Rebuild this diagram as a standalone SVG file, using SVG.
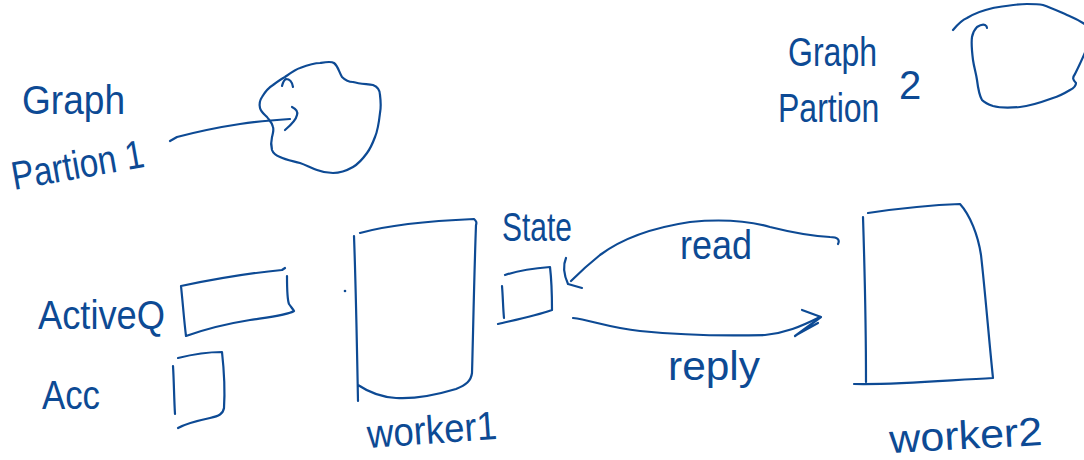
<svg xmlns="http://www.w3.org/2000/svg" width="1084" height="460" viewBox="0 0 1084 460">
<style>
.s{fill:none;stroke:#0d4a94;stroke-width:2.2;stroke-linecap:round;stroke-linejoin:round}
.t{fill:#0d4a94;font-family:"Liberation Sans",Arial,sans-serif;font-size:40px}
</style>
<rect width="1084" height="460" fill="#ffffff"/>
<g id="graph1">
<text class="t" x="22" y="114" font-size="46" textLength="103" lengthAdjust="spacingAndGlyphs">Graph</text>
<text class="t" x="14" y="190" transform="rotate(-10 14 190)" font-size="42" textLength="134" lengthAdjust="spacingAndGlyphs">Partion 1</text>
<path class="s" d="M285,77 C292,72 296,69 300,68 C308,65 314,63 320,63 C326,62 331,61 334,63 C338,66 339,72 342,77 C346,81 350,82 353,82 C360,84 368,84 373,85 C378,87 380,90 380,95 C381,103 381,108 380,113 C379,122 378,130 375,137 C372,145 370,149 367,153 C362,160 358,164 353,167 C346,171 340,173 333,173 C327,173 322,172 317,170 C311,168 306,165 300,163 C293,161 286,160 280,157 C275,155 273,153 272,150 C271,146 271,141 272,137 C273,133 274,130 273,127 C272,122 269,120 267,117 C264,114 261,112 260,108 C259,104 260,100 262,97 C265,92 268,88 273,85 C277,82 281,79 285,77 Z"/>
<path class="s" d="M282,86 C283,82 284,80 286,79 C289,79 292,81 293,87"/>
</g>
<g id="graph2">
<text class="t" x="788" y="66" font-size="44" textLength="89" lengthAdjust="spacingAndGlyphs">Graph</text>
<text class="t" transform="translate(778 122) scale(0.8 1)" x="0" y="0" font-size="44">Partion</text>
<text class="t" x="899" y="99" font-size="24">2</text>
<path class="s" d="M953,30 C958,24 962,20 967,18 C975,13 984,10 993,8 C1005,6 1016,4 1027,4 C1034,4 1038,4 1043,5 C1052,8 1060,12 1067,15 C1074,18 1079,20 1086,25 M1086,50 C1082,60 1078,68 1075,74 C1072,78 1073,80 1076,83 C1076,86 1074,88 1070,90 C1065,93 1060,96 1053,98 C1042,102 1031,106 1020,107 C1010,108 1000,108 993,106 C987,104 984,102 982,100 C979,95 978,88 977,80 C976,73 974,67 973,60 C972,52 971,44 972,37 C973,32 975,29 977,27 C980,25 983,24 985,25 C987,26 987,27 987,28"/>
</g>
<g id="activeq">
<text class="t" x="38" y="329" font-size="50" textLength="127" lengthAdjust="spacingAndGlyphs">ActiveQ</text>
<path class="s" d="M181,286 C210,280 250,273 282,270 L285,268 M181,286 C183,305 184,320 186,336 C200,331 225,324 250,320 C270,317 288,315 294,311 M287,276 C287,289 287,299 289,304 C291,307 293,309 294,311"/>
</g>
<g id="acc">
<text class="t" x="42" y="409" font-size="48" textLength="58" lengthAdjust="spacingAndGlyphs">Acc</text>
<path class="s" d="M173,366 C174,382 174,398 175,414 M178,358 C190,355 208,352 222,352 C224,370 225,392 224,408 C223,414 219,416 210,418 C196,421 185,424 178,428"/>
</g>
<g id="worker1">
<circle cx="345" cy="291" r="1.3" fill="#0d4a94"/>
<path class="s" d="M354,236 C356,290 357,350 358,401 M360,233 C385,226 425,221 474,219 C476,221 477,222 476,225 C474,280 473,340 472,373 C471,381 466,385 456,389 C436,395 412,399 396,398 C379,397 367,391 358,385"/>
<text class="t" x="368" y="448" font-size="38" transform="rotate(-4 368 448)" textLength="130" lengthAdjust="spacingAndGlyphs">worker1</text>
</g>
<g id="state">
<text class="t" x="502" y="241" font-size="40" textLength="70" lengthAdjust="spacingAndGlyphs">State</text>
<path class="s" d="M502,286 C503,298 503,308 504,318 M505,275 C520,270 538,268 550,267 C552,284 552,300 552,310 C535,316 515,320 498,324"/>
</g>
<g id="worker2">
<path class="s" d="M863,217 C865,280 866,330 866,382 M868,213 C895,209 930,205 960,204 C970,215 978,235 981,255 C985,290 989,340 993,378 C950,380 900,385 854,384"/>
<text class="t" x="890" y="453" font-size="38" transform="rotate(-3 890 453)" textLength="153" lengthAdjust="spacingAndGlyphs">worker2</text>
</g>
<g id="connectors">
<path class="s" d="M170,141 L177,137 C200,131 220,127 240,124 C260,121 275,120 290,119"/>
<path class="s" d="M292,107 C296,109 298,112 297,115 C296,120 291,125 285,130"/>
<path class="s" d="M838,244 C840,240 838,237 830,237 C810,236 790,232 770,227 C745,220 720,219 690,222 C650,228 620,240 600,255 C590,263 580,272 571,281"/>
<path class="s" d="M566,258 C563,265 564,275 568,284 L582,288"/>
<text class="t" x="680" y="259" font-size="38" textLength="72" lengthAdjust="spacingAndGlyphs">read</text>
<path class="s" d="M573,318 C590,320 610,328 640,331 C680,335 730,336 765,335 C785,333 800,327 820,317"/>
<path class="s" d="M802,310 L821,317 L795,336 M818,323 L798,334"/>
<text class="t" x="668" y="380" font-size="40" textLength="92" lengthAdjust="spacingAndGlyphs">reply</text>
</g>
</svg>
